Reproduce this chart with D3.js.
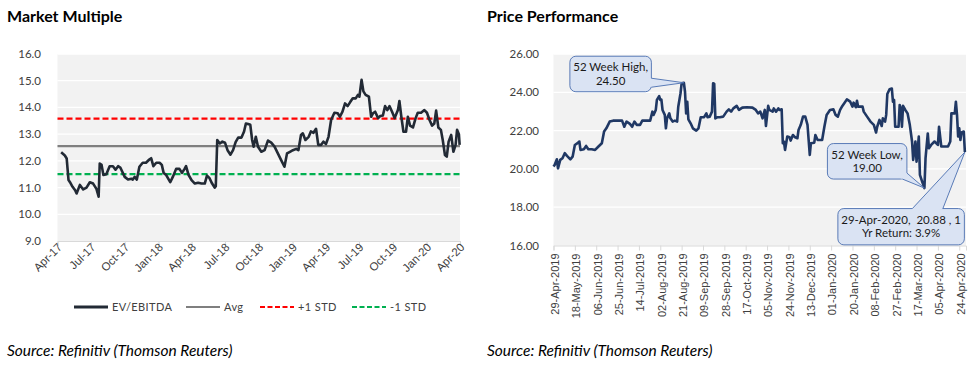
<!DOCTYPE html>
<html>
<meta charset="utf-8">
<head>
  <title>Market Multiple and Price Performance</title>
</head>
<style>
body { margin: 0; background: #fff; }
svg { display: block; font-family: Lato, "Open Sans", sans-serif; }
.title { font-size: 16px; font-weight: bold; fill: #000; }
.source { font-size: 15.5px; font-style: italic; fill: #000; }
.tick-label { font-size: 11.5px; fill: #404040; }
.legend text { font-size: 11px; fill: #404040; letter-spacing: 0.4px; }
.callout text { font-size: 11.5px; fill: #1a1a1a; white-space: pre; }
</style>
<body>
<script src="https://cdnjs.cloudflare.com/ajax/libs/d3/7.8.5/d3.min.js"></script>
<script>

// ---- Market multiple (EV/EBITDA) ----
var mmDates = [
  "2017-04-11","2017-04-21","2017-04-26","2017-05-01","2017-05-05","2017-05-12","2017-05-19","2017-05-23",
  "2017-06-01","2017-06-10","2017-06-19","2017-06-28","2017-07-07","2017-07-16","2017-07-22","2017-07-25",
  "2017-07-30","2017-08-04","2017-08-12","2017-08-21","2017-08-30","2017-09-06","2017-09-13","2017-09-19",
  "2017-10-01","2017-10-10","2017-10-19","2017-10-23","2017-10-28","2017-11-03","2017-11-10","2017-11-19",
  "2017-11-28","2017-12-07","2017-12-12","2017-12-18","2017-12-26","2018-01-04","2018-01-10","2018-01-15",
  "2018-01-22","2018-02-02","2018-02-09","2018-02-18","2018-02-27","2018-03-06","2018-03-13","2018-03-17",
  "2018-03-24","2018-04-01","2018-04-10","2018-04-19","2018-04-28","2018-05-07","2018-05-13","2018-05-20",
  "2018-05-27","2018-06-03","2018-06-06","2018-06-10","2018-06-17","2018-06-24","2018-07-01","2018-07-08",
  "2018-07-16","2018-07-23","2018-07-30","2018-08-06","2018-08-15","2018-08-22","2018-08-27","2018-09-02",
  "2018-09-08","2018-09-13","2018-09-17","2018-09-23","2018-09-29","2018-10-08","2018-10-17","2018-10-26",
  "2018-11-04","2018-11-13","2018-11-22","2018-12-01","2018-12-10","2018-12-17","2018-12-25","2019-01-02",
  "2019-01-11","2019-01-17","2019-01-24","2019-01-29","2019-02-05","2019-02-14","2019-02-20","2019-02-27",
  "2019-03-06","2019-03-12","2019-03-20","2019-03-26","2019-04-02","2019-04-09","2019-04-16","2019-04-25",
  "2019-05-04","2019-05-10","2019-05-17","2019-05-24","2019-05-31","2019-06-07","2019-06-14","2019-06-22",
  "2019-06-28","2019-07-02","2019-07-08","2019-07-13","2019-07-19","2019-07-28","2019-08-03","2019-08-08",
  "2019-08-14","2019-08-22","2019-08-28","2019-09-04","2019-09-10","2019-09-16","2019-09-22","2019-09-29",
  "2019-10-06","2019-10-15","2019-10-19","2019-10-24","2019-10-30","2019-11-06","2019-11-11","2019-11-17",
  "2019-11-25","2019-12-02","2019-12-08","2019-12-17","2019-12-26","2020-01-02","2020-01-09","2020-01-16",
  "2020-01-22","2020-01-27","2020-02-02","2020-02-09","2020-02-14","2020-02-20","2020-02-25","2020-03-01",
  "2020-03-08","2020-03-14","2020-03-20","2020-03-24","2020-03-29","2020-03-31"
];
var mmValues = [
  12.32,12.2,12.09,11.28,11.2,11.03,10.9,10.78,
  11.1,10.93,11.0,11.2,11.15,10.95,10.66,11.9,
  11.85,11.47,11.5,11.8,11.8,11.67,11.8,11.75,
  11.4,11.3,11.33,11.3,11.4,11.3,11.78,11.93,
  11.93,12.05,12.1,11.8,11.93,11.93,11.85,11.55,
  11.47,11.2,11.4,11.7,11.7,11.55,11.7,11.8,
  11.47,11.28,11.15,11.18,11.15,11.15,11.45,11.35,
  11.15,11.0,11.05,12.78,12.65,12.72,12.68,12.4,
  12.23,12.4,12.7,12.87,12.87,13.1,13.4,13.38,
  13.35,12.78,12.53,12.9,12.53,12.34,12.4,12.76,
  12.68,12.53,12.28,12.03,11.78,12.28,12.34,12.4,
  12.45,12.4,12.97,13.03,12.78,12.9,13.1,13.05,
  13.2,12.6,12.6,12.72,12.63,12.9,13.53,13.8,
  13.78,13.65,13.84,14.15,14.05,14.2,14.34,14.34,
  14.47,14.4,15.03,14.6,14.47,14.4,13.65,13.78,
  13.84,13.6,13.68,13.7,14.05,13.9,14.05,13.84,
  13.6,13.9,14.24,13.68,13.09,13.09,13.65,13.32,
  13.25,13.59,13.8,13.8,13.9,13.8,13.53,13.32,
  13.4,13.88,13.25,13.16,12.78,12.22,12.16,12.72,
  12.97,12.34,12.6,13.16,13.0,12.6
];
var mmAvg = 12.55, mmPlusStd = 13.58, mmMinusStd = 11.5;
var mmYTicks = [9, 10, 11, 12, 13, 14, 15, 16];
var mmXTicks = ["2017-04-01","2017-07-01","2017-10-01","2018-01-01","2018-04-01","2018-07-01","2018-10-01",
  "2019-01-01","2019-04-01","2019-07-01","2019-10-01","2020-01-01","2020-04-01"];
var mmLegend = ["EV/EBITDA", "Avg", "+1 STD", "-1 STD"];

// ---- Price performance ----
var priceDates = [
  "2019-04-29","2019-04-30","2019-05-02","2019-05-03","2019-05-05","2019-05-07","2019-05-09","2019-05-11",
  "2019-05-14","2019-05-16","2019-05-18","2019-05-21","2019-05-22","2019-05-23","2019-05-26","2019-05-28",
  "2019-05-30","2019-06-02","2019-06-05","2019-06-08","2019-06-11","2019-06-13","2019-06-15","2019-06-18",
  "2019-06-21","2019-06-24","2019-06-29","2019-07-01","2019-07-03","2019-07-06","2019-07-08","2019-07-10",
  "2019-07-12","2019-07-15","2019-07-17","2019-07-20","2019-07-24","2019-07-26","2019-07-27","2019-07-29",
  "2019-07-30","2019-08-01","2019-08-02","2019-08-03","2019-08-04","2019-08-06","2019-08-07","2019-08-08",
  "2019-08-10","2019-08-11","2019-08-13","2019-08-15","2019-08-17","2019-08-18","2019-08-20","2019-08-21",
  "2019-08-23","2019-08-24","2019-08-25","2019-08-26","2019-08-27","2019-08-29","2019-08-31","2019-09-03",
  "2019-09-05","2019-09-07","2019-09-10","2019-09-12","2019-09-13","2019-09-15","2019-09-17","2019-09-18",
  "2019-09-19","2019-09-20","2019-09-22","2019-09-24","2019-09-27","2019-09-30","2019-10-02","2019-10-04",
  "2019-10-06","2019-10-09","2019-10-11","2019-10-14","2019-10-18","2019-10-23","2019-10-26","2019-10-28",
  "2019-10-30","2019-11-01","2019-11-03","2019-11-04","2019-11-06","2019-11-07","2019-11-10","2019-11-11",
  "2019-11-13","2019-11-15","2019-11-16","2019-11-18","2019-11-19","2019-11-20","2019-11-21","2019-11-23",
  "2019-11-25","2019-11-26","2019-11-28","2019-11-30","2019-12-02","2019-12-03","2019-12-05","2019-12-07",
  "2019-12-09","2019-12-11","2019-12-12","2019-12-13","2019-12-14","2019-12-17","2019-12-18","2019-12-20",
  "2019-12-22","2019-12-24","2019-12-26","2019-12-28","2019-12-31","2020-01-03","2020-01-05","2020-01-07",
  "2020-01-09","2020-01-11","2020-01-13","2020-01-15","2020-01-18","2020-01-20","2020-01-21","2020-01-23",
  "2020-01-24","2020-01-25","2020-01-27","2020-01-29","2020-01-30","2020-02-02","2020-02-05","2020-02-08",
  "2020-02-10","2020-02-11","2020-02-13","2020-02-15","2020-02-16","2020-02-18","2020-02-19","2020-02-20",
  "2020-02-22","2020-02-24","2020-02-25","2020-02-26","2020-02-27","2020-02-29","2020-03-01","2020-03-02",
  "2020-03-03","2020-03-04","2020-03-05","2020-03-07","2020-03-09","2020-03-11","2020-03-13","2020-03-14",
  "2020-03-16","2020-03-17","2020-03-19","2020-03-20","2020-03-22","2020-03-24","2020-03-25","2020-03-27",
  "2020-03-28","2020-03-30","2020-04-02","2020-04-05","2020-04-06","2020-04-08","2020-04-11","2020-04-14",
  "2020-04-16","2020-04-17","2020-04-20","2020-04-21","2020-04-22","2020-04-23","2020-04-24","2020-04-25",
  "2020-04-26","2020-04-28","2020-04-29"
];
var priceValues = [
  20.12,20.2,20.5,20.03,20.47,20.56,20.82,20.68,
  20.5,20.64,21.25,21.37,21.43,20.99,21.03,21.2,
  21.03,21.03,20.99,21.17,21.34,21.95,22.12,22.47,
  22.52,22.52,22.52,22.2,22.47,22.35,22.2,22.47,
  22.3,22.3,22.52,22.52,22.52,22.99,22.82,23.08,
  23.6,23.8,23.6,23.62,23.08,22.82,22.12,22.64,
  22.9,22.64,22.47,22.52,22.47,23.25,23.95,24.47,
  24.5,24.03,22.9,23.51,22.59,22.38,22.12,22.0,
  22.12,22.7,22.7,22.9,22.7,22.73,22.99,24.47,
  24.45,22.64,22.7,22.7,22.73,22.99,23.11,22.99,
  23.16,23.29,23.08,23.2,23.22,23.2,23.08,22.9,
  22.99,22.64,23.08,22.24,23.29,23.08,22.99,23.16,
  22.99,23.16,23.08,23.11,21.34,21.43,20.99,21.69,
  21.65,21.48,21.77,21.65,21.6,22.03,22.3,22.73,
  22.73,22.3,21.51,20.73,21.34,21.37,21.77,21.51,
  21.51,21.51,22.2,22.82,23.08,23.11,22.82,22.73,
  23.08,23.29,23.46,23.63,23.51,23.25,23.46,23.22,
  23.56,23.25,23.25,23.25,22.99,22.73,22.47,22.3,
  21.9,22.2,22.56,22.24,22.64,22.47,22.82,23.91,
  24.16,24.2,23.51,23.6,22.2,22.2,22.2,23.34,
  23.16,22.2,23.29,23.08,22.9,22.3,21.43,20.47,
  21.43,20.38,21.69,19.69,19.34,19.0,20.56,21.85,
  21.08,21.25,21.43,21.25,22.2,21.17,21.17,21.17,
  21.43,22.9,22.9,23.51,22.82,21.69,22.12,21.51,
  21.9,21.95,20.88
];
var priceYTicks = [16, 18, 20, 22, 24, 26];
var priceXTicks = ["2019-04-29","2019-05-18","2019-06-06","2019-06-25","2019-07-14","2019-08-02","2019-08-21",
  "2019-09-09","2019-09-28","2019-10-17","2019-11-05","2019-11-24","2019-12-13","2020-01-01","2020-01-20",
  "2020-02-08","2020-02-27","2020-03-17","2020-04-05","2020-04-24"];
var highLabel = ["52 Week High,", "24.50"], highDate = "2019-08-23", highValue = 24.5;
var lowLabel = ["52 Week Low,", "19.00"], lowDate = "2020-03-24", lowValue = 19.0;
var lastLabel = ["29-Apr-2020,  20.88 , 1", "Yr Return: 3.9%"], lastDate = "2020-04-29", lastValue = 20.88;

var parse = d3.timeParse("%Y-%m-%d");
var width = 977, height = 377;

var svg = d3.select("body").append("svg")
    .attr("width", width)
    .attr("height", height);

svg.append("text").attr("class", "title").attr("x", 7).attr("y", 22).text("Market Multiple");
svg.append("text").attr("class", "title").attr("x", 487).attr("y", 22).text("Price Performance");
svg.append("text").attr("class", "source").attr("x", 7).attr("y", 356).text("Source: Refinitiv (Thomson Reuters)");
svg.append("text").attr("class", "source").attr("x", 487).attr("y", 356).text("Source: Refinitiv (Thomson Reuters)");

// ================= left chart =================
var xL = d3.scaleTime().domain([parse("2017-04-01"), parse("2020-04-01")]).range([57.5, 460]);
var yL = d3.scaleLinear().domain([9, 16]).range([241, 54]);

var gL = svg.append("g");
gL.append("rect").attr("x", 57.5).attr("y", 54).attr("width", 460 - 57.5).attr("height", 241 - 54).attr("fill", "#f2f2f2");
gL.selectAll(".grid").data(mmYTicks.slice(1)).enter().append("line")
    .attr("x1", 57.5).attr("x2", 460)
    .attr("y1", function(d) { return yL(d); }).attr("y2", function(d) { return yL(d); })
    .attr("stroke", "#fff").attr("stroke-width", 1.3);

var axL = gL.append("g").attr("transform", "translate(0,241)")
    .call(d3.axisBottom(xL).tickValues(mmXTicks.map(parse)).tickSize(5).tickFormat(d3.timeFormat("%b-%y")));
axL.select(".domain").attr("stroke", "#d9d9d9");
axL.selectAll("line").attr("stroke", "#d9d9d9");
axL.selectAll("text").attr("class", "tick-label")
    .attr("text-anchor", "end")
    .attr("transform", "translate(2,4) rotate(-45)")
    .attr("x", 0).attr("y", 0).attr("dy", "0.35em");

gL.selectAll(".ylab").data(mmYTicks).enter().append("text")
    .attr("class", "tick-label").attr("text-anchor", "end")
    .attr("x", 41).attr("y", function(d) { return yL(d); }).attr("dy", "0.35em")
    .text(d3.format(".1f"));

var refLines = [
  {v: mmAvg, color: "#7f7f7f", dash: null},
  {v: mmPlusStd, color: "#ff0000", dash: "6,3"},
  {v: mmMinusStd, color: "#00b050", dash: "6,3"}
];
gL.selectAll(".ref").data(refLines).enter().append("line")
    .attr("x1", 57.5).attr("x2", 460)
    .attr("y1", function(d) { return yL(d.v); }).attr("y2", function(d) { return yL(d.v); })
    .attr("stroke", function(d) { return d.color; })
    .attr("stroke-width", 2.2)
    .attr("stroke-dasharray", function(d) { return d.dash; });

var mmData = mmDates.map(function(d, i) { return {date: parse(d), value: mmValues[i]}; });
gL.append("path").datum(mmData)
    .attr("fill", "none").attr("stroke", "#222a35").attr("stroke-width", 2.6)
    .attr("stroke-linejoin", "round")
    .attr("d", d3.line().x(function(d) { return xL(d.date); }).y(function(d) { return yL(d.value); }));

// legend
var legendStyle = [
  {color: "#222a35", dash: null, w: 3, x: 74},
  {color: "#7f7f7f", dash: null, w: 2.2, x: 186},
  {color: "#ff0000", dash: "5,2.5", w: 2, x: 260},
  {color: "#00b050", dash: "5,2.5", w: 2, x: 352}
];
var lg = svg.append("g").attr("class", "legend").selectAll("g").data(mmLegend).enter().append("g")
    .attr("transform", function(d, i) { return "translate(" + legendStyle[i].x + ",307)"; });
lg.append("line").attr("x1", 0).attr("x2", 34)
    .attr("stroke", function(d, i) { return legendStyle[i].color; })
    .attr("stroke-width", function(d, i) { return legendStyle[i].w; })
    .attr("stroke-dasharray", function(d, i) { return legendStyle[i].dash; });
lg.append("text").attr("x", 38).attr("dy", "0.35em").text(function(d) { return d; });

// ================= right chart =================
var xR = d3.scaleTime().domain([parse("2019-04-29"), parse("2020-04-30")]).range([553.5, 966]);
var yR = d3.scaleLinear().domain([16, 26]).range([245.5, 54]);

var gR = svg.append("g");
gR.append("rect").attr("x", 553.5).attr("y", 54).attr("width", 966 - 553.5).attr("height", 245.5 - 54).attr("fill", "#f2f2f2");
gR.selectAll(".grid").data(priceYTicks.slice(1)).enter().append("line")
    .attr("x1", 553.5).attr("x2", 966)
    .attr("y1", function(d) { return yR(d); }).attr("y2", function(d) { return yR(d); })
    .attr("stroke", "#fff").attr("stroke-width", 1.3);

var axR = gR.append("g").attr("transform", "translate(0,245.5)")
    .call(d3.axisBottom(xR).tickValues(priceXTicks.map(parse)).tickSize(5).tickFormat(d3.timeFormat("%d-%b-%Y")));
axR.select(".domain").attr("stroke", "#d9d9d9");
axR.selectAll("line").attr("stroke", "#d9d9d9");
axR.selectAll("text").attr("class", "tick-label")
    .style("font-size", "11px")
    .attr("text-anchor", "end")
    .attr("transform", "translate(1,8) rotate(-90)")
    .attr("x", 0).attr("y", 0).attr("dy", "0.35em");

gR.selectAll(".ylab").data(priceYTicks).enter().append("text")
    .attr("class", "tick-label").attr("text-anchor", "end")
    .attr("x", 539).attr("y", function(d) { return yR(d); }).attr("dy", "0.35em")
    .text(d3.format(".2f"));

var priceData = priceDates.map(function(d, i) { return {date: parse(d), value: priceValues[i]}; });
gR.append("path").datum(priceData)
    .attr("fill", "none").attr("stroke", "#203864").attr("stroke-width", 2.6)
    .attr("stroke-linejoin", "round")
    .attr("d", d3.line().x(function(d) { return xR(d.date); }).y(function(d) { return yR(d.value); }));

// callouts: box given relative to the point it marks, tail base given as two points relative to it too
function callout(lines, date, value, box, b1, b2) {
  var tx = xR(parse(date)), ty = yR(value);
  var g = svg.append("g").attr("class", "callout");
  var bx = tx + box[0], by = ty + box[1], bw = box[2], bh = box[3];
  g.append("rect").attr("x", bx).attr("y", by).attr("width", bw).attr("height", bh)
      .attr("rx", 6).attr("fill", "#dae3f3").attr("stroke", "#4a6eb0").attr("stroke-width", 0.9);
  var cx = bx + bw / 2, cy = by + bh / 2;
  var p1 = [tx + b1[0], ty + b1[1]], p2 = [tx + b2[0], ty + b2[1]];
  var in1 = [p1[0] + (cx - p1[0]) * 0.15, p1[1] + (cy - p1[1]) * 0.15];
  var in2 = [p2[0] + (cx - p2[0]) * 0.15, p2[1] + (cy - p2[1]) * 0.15];
  g.append("path").attr("d", "M" + [in1, p1, [tx, ty], p2, in2].join("L") + "Z").attr("fill", "#dae3f3");
  g.append("path").attr("d", "M" + [p1, [tx, ty], p2].join("L"))
      .attr("fill", "none").attr("stroke", "#4a6eb0").attr("stroke-width", 0.9);
  g.selectAll("text").data(lines).enter().append("text")
      .attr("x", cx).attr("y", function(d, i) { return cy + (i - 0.5) * 13.5; })
      .attr("dy", "0.35em").attr("text-anchor", "middle").text(function(d) { return d; });
}
callout(highLabel, highDate, highValue, [-114, -26.5, 81.5, 35.5], [-32.5, -4.5], [-32.5, 4.5]);
callout(lowLabel, lowDate, lowValue, [-97, -44.5, 79.5, 35.5], [-22, -9], [-17.5, -15]);
callout(lastLabel, lastDate, lastValue, [-127, 56.5, 126.5, 36.3], [-52.5, 56.5], [-22, 56.5]);

</script>
</body>
</html>
